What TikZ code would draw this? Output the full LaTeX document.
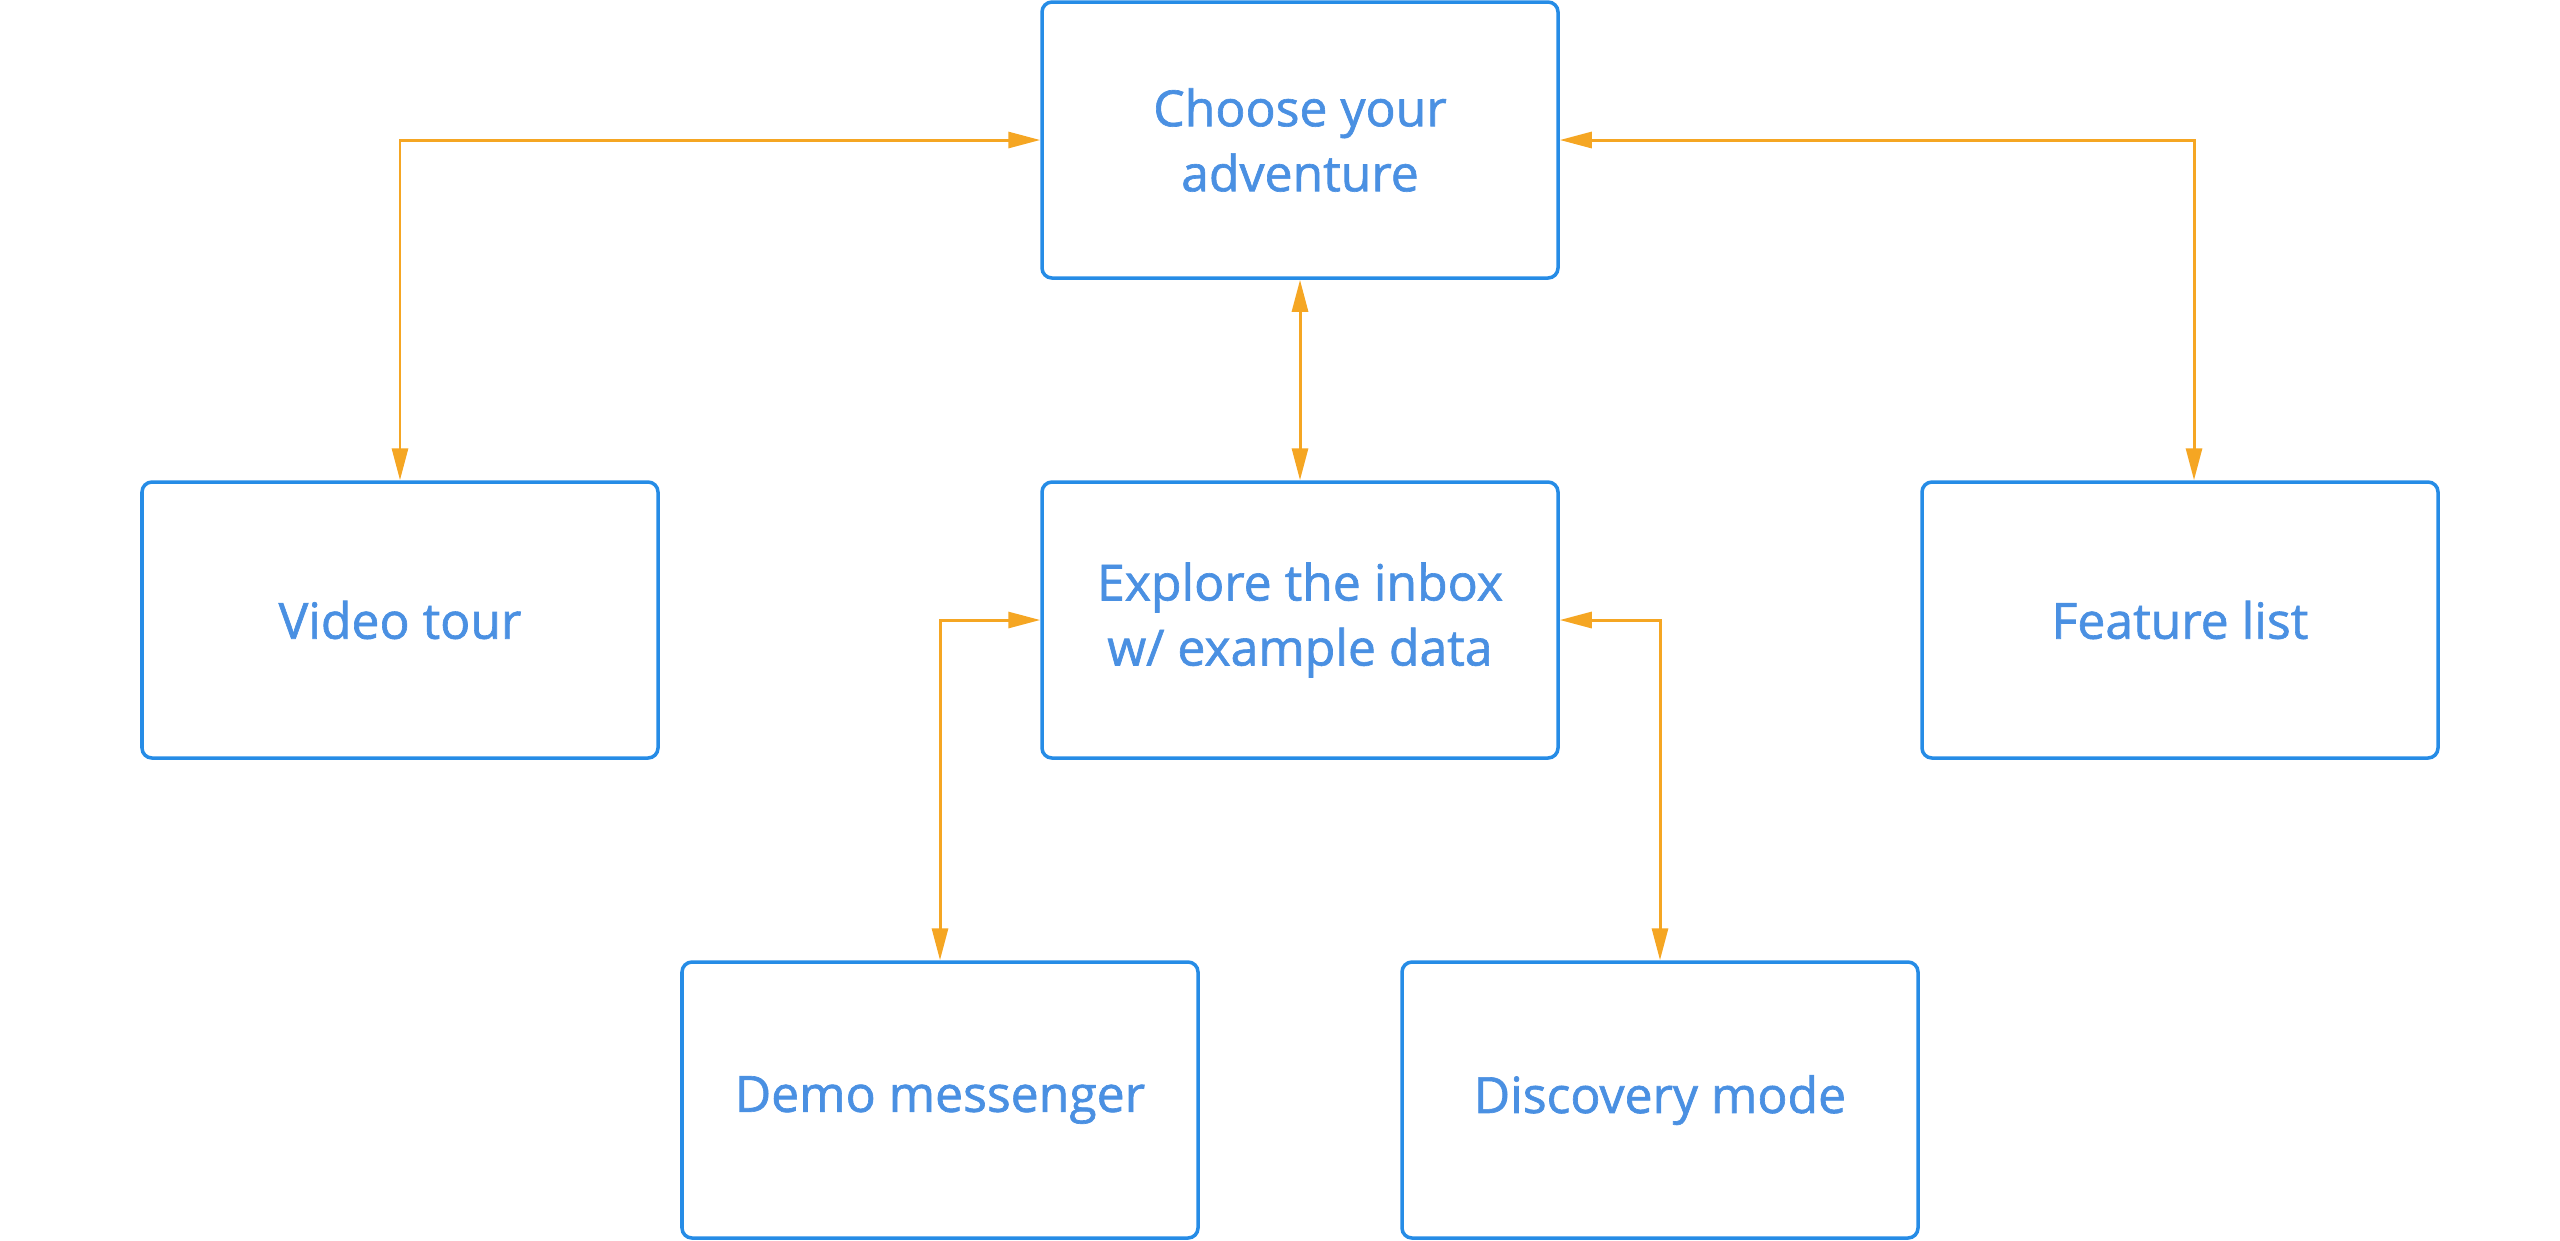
\documentclass[tikz,border=0pt]{standalone}
\usepackage{fontspec}
\setmainfont{Open Sans}
\newfontfamily\stagefont[FakeBold=1.3]{Open Sans}
\usetikzlibrary{arrows.meta}
\definecolor{boxblue}{RGB}{38,140,230}
\definecolor{textblue}{RGB}{74,144,226}
\definecolor{linkorange}{RGB}{245,166,35}

\begin{document}
\begin{tikzpicture}[
  stage/.style={draw=boxblue, line width=1pt, rounded corners=0.1cm,
    minimum width=5.16cm, minimum height=2.76cm, inner sep=0pt,
    align=center, text=textblue, font=\stagefont\fontsize{14.2}{18.5}\selectfont},
  link/.style={linkorange, line width=0.85pt,
    {Triangle[length=0.32cm,width=0.16cm]}-{Triangle[length=0.32cm,width=0.16cm]}}]
% canvas: 25.6 x 12.4 (1cm = 100px), y runs downwards
\useasboundingbox (0,0) rectangle (25.6,-12.4);

% ---- boxes ----
\node[stage] (choose)  at (13.00,-1.40) {Choose your\\adventure};
\node[stage] (video)   at (4.00,-6.20)  {Video tour};
\node[stage] (explore) at (13.00,-6.20) {Explore the inbox\\w/ example data};
\node[stage] (feature) at (21.80,-6.20) {Feature list};
\node[stage] (demo)    at (9.40,-11.00) {Demo messenger};
\node[stage] (disc)    at (16.60,-11.00) {Discovery mode};

% ---- links (two-way) ----
\draw[link] (choose.west) -| (video.north);
\draw[link] (choose.east) -| ([xshift=0.14cm]feature.north);
\draw[link] (choose.south) -- (explore.north);
\draw[link] (explore.west) -| (demo.north);
\draw[link] (explore.east) -| (disc.north);
\end{tikzpicture}
\end{document}
